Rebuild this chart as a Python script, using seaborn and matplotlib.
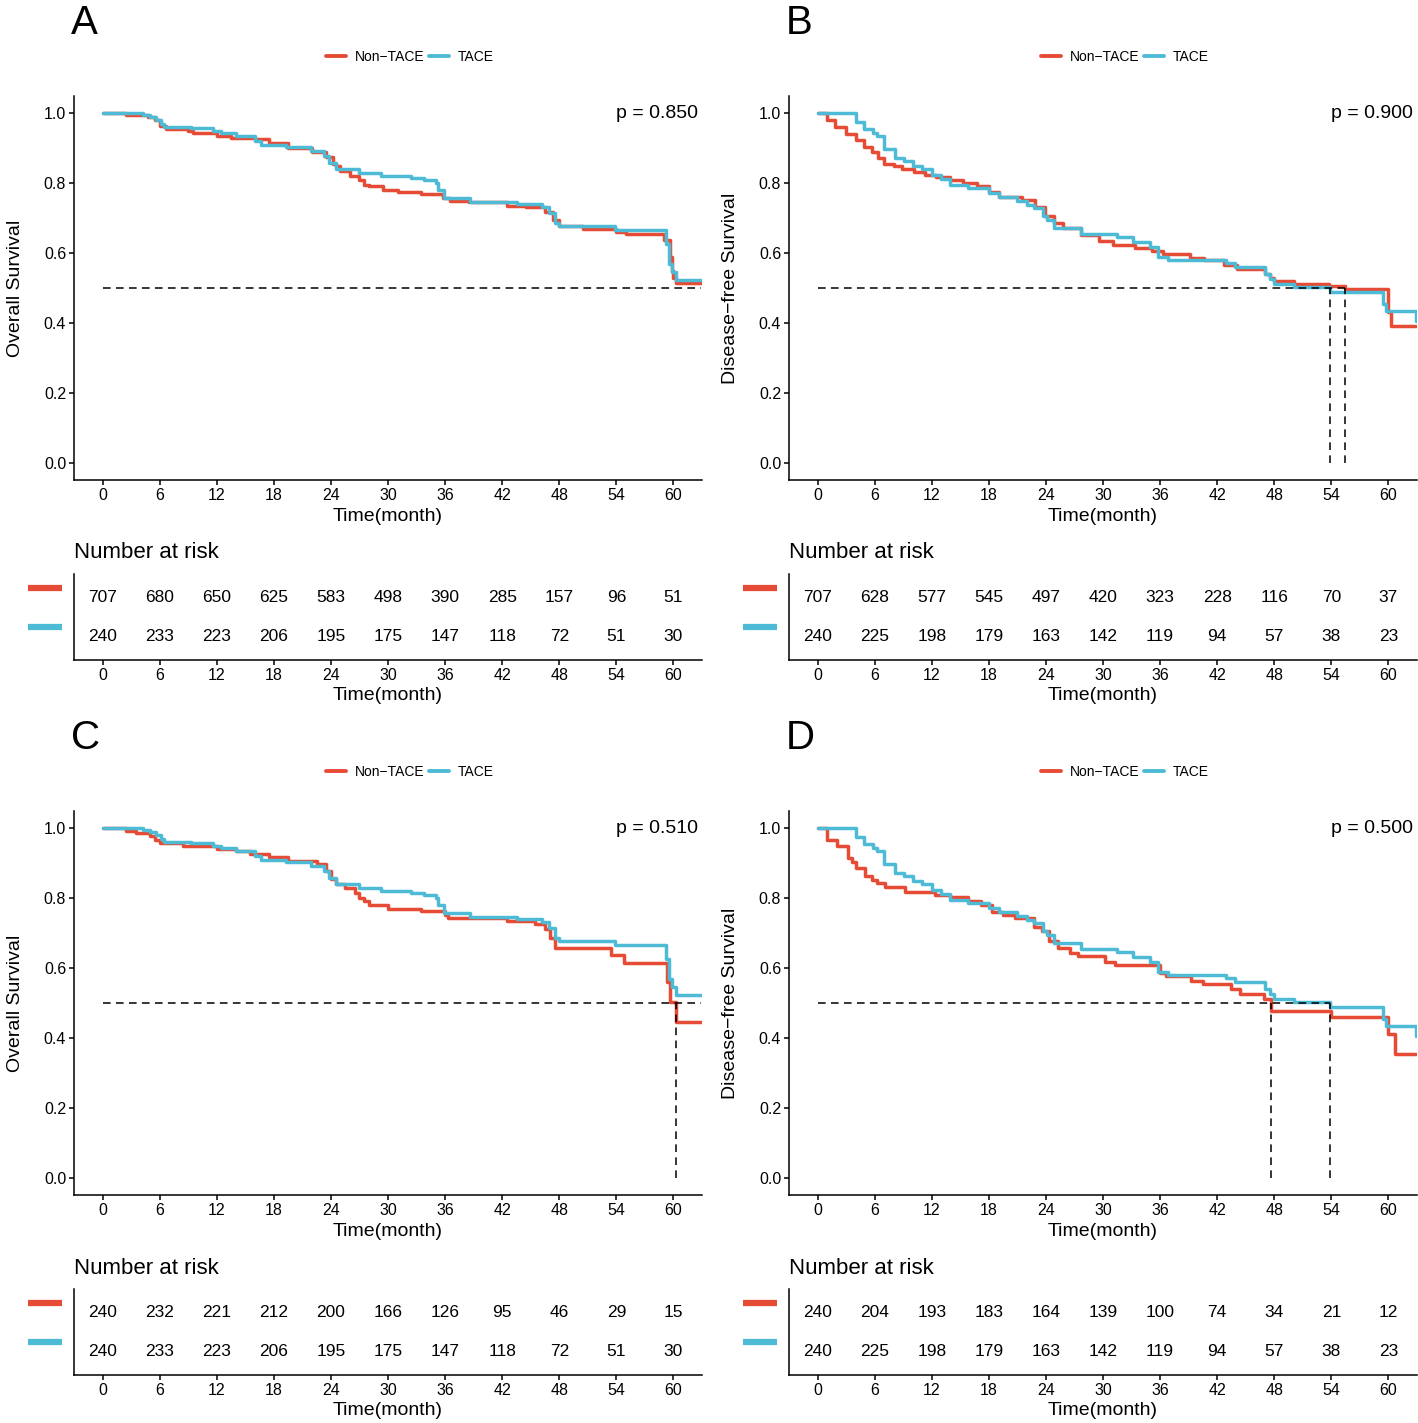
import numpy as np
import pandas as pd
import seaborn as sns
import matplotlib.pyplot as plt
import matplotlib.transforms as mtransforms
from matplotlib.lines import Line2D

# Kaplan-Meier step curves (time in months, survival)
tace_os_t = [0, 4.2, 5.0, 5.6, 6.1, 6.5, 9.3, 11.6, 12.4, 14.0, 16.0, 16.7, 19.3, 21.9, 23.3, 23.8, 24.5, 26.9,
             29.3, 32.4, 33.8, 35.0, 35.3, 35.9, 38.6, 43.6, 46.2, 46.9, 47.5, 48.0, 53.9, 59.2, 59.5, 59.8, 60.3, 62.9]
tace_os_s = [1.0, 0.995, 0.99, 0.98, 0.97, 0.962, 0.957, 0.95, 0.943, 0.935, 0.921, 0.911, 0.904, 0.892, 0.877,
             0.859, 0.84, 0.83, 0.822, 0.815, 0.808, 0.80, 0.78, 0.757, 0.746, 0.74, 0.733, 0.714, 0.685, 0.678,
             0.666, 0.627, 0.57, 0.546, 0.522, 0.522]

non_os_a_t = [0, 2.5, 4.8, 5.5, 6.0, 6.7, 9.0, 9.5, 12.0, 13.5, 16.0, 17.5, 19.5, 22.0, 23.5, 24.2, 24.5, 25.0,
              26.0, 27.0, 27.5, 28.0, 29.5, 31.0, 33.5, 35.8, 36.5, 38.5, 42.5, 44.5, 46.5, 47.3, 48.0, 50.5,
              54.0, 55.0, 59.0, 59.6, 59.8, 60.0, 60.3, 62.9]
non_os_a_s = [1.0, 0.995, 0.99, 0.98, 0.965, 0.955, 0.95, 0.945, 0.935, 0.93, 0.926, 0.915, 0.90, 0.89, 0.875,
              0.855, 0.849, 0.834, 0.822, 0.81, 0.796, 0.791, 0.782, 0.774, 0.77, 0.757, 0.75, 0.746, 0.735,
              0.731, 0.719, 0.695, 0.678, 0.67, 0.661, 0.654, 0.637, 0.59, 0.55, 0.53, 0.514, 0.514]

non_os_c_t = [0, 2.5, 3.5, 5.0, 5.5, 6.0, 8.5, 12.0, 14.0, 15.5, 17.5, 19.5, 22.5, 23.5, 24.0, 24.5, 25.5, 26.5,
              27.0, 27.5, 28.0, 30.0, 33.5, 36.0, 36.3, 42.5, 45.5, 46.5, 47.0, 47.6, 53.4, 54.8, 59.3, 59.6,
              60.3, 62.9]
non_os_c_s = [1.0, 0.993, 0.988, 0.979, 0.966, 0.957, 0.95, 0.94, 0.934, 0.926, 0.917, 0.907, 0.898, 0.878,
              0.854, 0.84, 0.83, 0.816, 0.80, 0.791, 0.782, 0.77, 0.764, 0.753, 0.743, 0.735, 0.726, 0.712,
              0.685, 0.658, 0.637, 0.615, 0.56, 0.502, 0.445, 0.445]

tace_dfs_t = [0, 4.0, 4.9, 5.8, 6.3, 7.0, 8.1, 9.1, 10.0, 11.0, 12.0, 13.0, 13.9, 15.8, 18.0, 19.1, 21.0, 22.0,
              22.7, 23.7, 24.1, 24.9, 27.7, 31.5, 33.2, 34.9, 35.8, 36.8, 42.9, 43.9, 47.0, 47.6, 48.0, 50.1,
              53.9, 59.4, 59.7, 62.9]
tace_dfs_s = [1.0, 0.976, 0.955, 0.945, 0.934, 0.897, 0.873, 0.863, 0.849, 0.842, 0.825, 0.812, 0.796, 0.786,
              0.772, 0.762, 0.748, 0.738, 0.728, 0.705, 0.695, 0.671, 0.656, 0.647, 0.632, 0.618, 0.589, 0.58,
              0.572, 0.56, 0.541, 0.525, 0.512, 0.503, 0.488, 0.454, 0.435, 0.405]

non_dfs_b_t = [0, 0.95, 1.8, 3.0, 4.0, 4.9, 5.7, 6.4, 7.0, 8.0, 8.9, 10.1, 11.3, 12.5, 13.9, 15.3, 16.8, 18.0,
               19.1, 21.5, 22.9, 23.9, 24.9, 25.8, 27.7, 29.6, 31.0, 33.4, 35.1, 36.3, 39.1, 40.6, 42.7, 44.1,
               47.0, 47.6, 48.0, 50.1, 53.7, 55.4, 59.9, 60.3, 62.9]
non_dfs_b_s = [1.0, 0.982, 0.96, 0.94, 0.924, 0.905, 0.89, 0.873, 0.854, 0.849, 0.84, 0.832, 0.825, 0.818,
               0.81, 0.80, 0.791, 0.776, 0.762, 0.752, 0.733, 0.705, 0.685, 0.671, 0.652, 0.635, 0.622, 0.616,
               0.607, 0.598, 0.587, 0.58, 0.565, 0.555, 0.541, 0.53, 0.521, 0.512, 0.505, 0.497, 0.43, 0.392,
               0.392]

non_dfs_d_t = [0, 0.99, 2.06, 3.17, 3.6, 4.0, 5.0, 5.7, 6.3, 7.1, 9.2, 12.3, 13.9, 15.8, 17.2, 18.3, 19.5, 20.8,
               22.8, 23.6, 24.3, 25.3, 26.5, 27.4, 30.2, 31.3, 36.0, 36.6, 39.3, 40.5, 43.4, 44.4, 46.9, 47.7,
               54.0, 59.9, 60.7, 62.9]
non_dfs_d_s = [1.0, 0.968, 0.949, 0.915, 0.905, 0.886, 0.863, 0.853, 0.843, 0.832, 0.817, 0.81, 0.805, 0.793,
               0.781, 0.762, 0.752, 0.743, 0.719, 0.705, 0.677, 0.658, 0.643, 0.634, 0.617, 0.608, 0.587, 0.577,
               0.563, 0.554, 0.539, 0.525, 0.511, 0.478, 0.459, 0.411, 0.354, 0.354]

# numbers at risk
risk_times = [0, 6, 12, 18, 24, 30, 36, 42, 48, 54, 60]
risk_a_non = [707, 680, 650, 625, 583, 498, 390, 285, 157, 96, 51]
risk_b_non = [707, 628, 577, 545, 497, 420, 323, 228, 116, 70, 37]
risk_c_non = [240, 232, 221, 212, 200, 166, 126, 95, 46, 29, 15]
risk_d_non = [240, 204, 193, 183, 164, 139, 100, 74, 34, 21, 12]
risk_tace_os = [240, 233, 223, 206, 195, 175, 147, 118, 72, 51, 30]
risk_tace_dfs = [240, 225, 198, 179, 163, 142, 119, 94, 57, 38, 23]

groups = ['Non\u2212TACE', 'TACE']
colors = ['#E64B35', '#4DBBD5']
panel_letters = ['A', 'B', 'C', 'D']
y_labels = ['Overall Survival', 'Disease\u2212free Survival', 'Overall Survival', 'Disease\u2212free Survival']
p_values = ['p = 0.850', 'p = 0.900', 'p = 0.510', 'p = 0.500']

sns.set_theme(style='ticks')
plt.rcParams['font.family'] = ['Liberation Sans', 'DejaVu Sans']
plt.rcParams['axes.linewidth'] = 1.1
plt.rcParams['xtick.major.width'] = 1.1
plt.rcParams['ytick.major.width'] = 1.1
plt.rcParams['xtick.major.size'] = 3.6
plt.rcParams['ytick.major.size'] = 3.6
plt.rcParams['axes.edgecolor'] = 'black'
plt.rcParams['xtick.color'] = 'black'
plt.rcParams['ytick.color'] = 'black'
plt.rcParams['text.color'] = 'black'
plt.rcParams['axes.labelcolor'] = 'black'

W, H = 1418, 1423
fig = plt.figure(figsize=(W / 100, H / 100), dpi=100)
fig.patch.set_facecolor('white')


def px_axes(left, top, right, bottom):
    return fig.add_axes([left / W, 1 - bottom / H, (right - left) / W, (bottom - top) / H])


def median_time(t, s):
    for ti, si in zip(t, s):
        if si <= 0.5:
            return ti
    return None


def draw_panel(k, x0, y0, curves, risk_rows):
    # survival plot
    ax = px_axes(x0 + 74, y0 + 96, x0 + 702, y0 + 480)
    frames = []
    for g, (t, s) in zip(groups, curves):
        frames.append(pd.DataFrame({'time': t, 'surv': s, 'group': g}))
    df = pd.concat(frames, ignore_index=True)
    sns.lineplot(data=df, x='time', y='surv', hue='group', hue_order=groups, palette=colors,
                 drawstyle='steps-post', linewidth=2.5, estimator=None, sort=False, legend=False, ax=ax)

    # median lines
    meds = [median_time(t, s) for t, s in curves]
    t_end = max(max(t) for t, s in curves)
    h_end = max(meds) if all(m is not None for m in meds) else t_end
    dash = dict(color='black', lw=1.1, ls=(0, (5, 3.5)))
    ax.plot([0, h_end], [0.5, 0.5], **dash)
    for m in meds:
        if m is not None:
            ax.plot([m, m], [0, 0.5], **dash)

    ax.set_xlim(-3, 63)
    ax.set_ylim(-0.05, 1.05)
    ax.set_xticks(risk_times)
    ax.set_yticks([0, 0.2, 0.4, 0.6, 0.8, 1.0])
    ax.set_yticklabels(['0.0', '0.2', '0.4', '0.6', '0.8', '1.0'])
    ax.tick_params(labelsize=11.5, pad=2)
    ax.set_xlabel('Time(month)', fontsize=14, labelpad=4)
    ax.set_ylabel(y_labels[k], fontsize=14, labelpad=14)
    sns.despine(ax=ax)
    ax.text(62.6, 1.0, p_values[k], ha='right', va='center', fontsize=14)

    # legend on top
    handles = [Line2D([], [], color=c, lw=2.8) for c in colors]
    fig.legend(handles, groups, loc='center', bbox_to_anchor=((x0 + 410) / W, 1 - (y0 + 57) / H),
               ncol=2, frameon=False, fontsize=10, handlelength=1.45, handletextpad=0.6,
               columnspacing=0.35, borderpad=0)

    # panel letter
    fig.text((x0 + 71) / W, 1 - (y0 + 34) / H, panel_letters[k], fontsize=29, ha='left', va='baseline')

    # risk table
    at = px_axes(x0 + 74, y0 + 574, x0 + 702, y0 + 660)
    at.set_xlim(-3, 63)
    at.set_ylim(0.385, 2.59)
    rows = [2, 1]
    trans = mtransforms.blended_transform_factory(at.transAxes, at.transData)
    for row, vals, c in zip(rows, risk_rows, colors):
        for t, n in zip(risk_times, vals):
            at.text(t, row, str(n), ha='center', va='center', fontsize=12.5)
        at.plot([-0.073, -0.019], [row + 0.22, row + 0.22], transform=trans, color=c, lw=4.5,
                solid_capstyle='butt', clip_on=False)
    at.set_xticks(risk_times)
    at.set_yticks([])
    at.tick_params(labelsize=11.5, pad=2)
    at.set_xlabel('Time(month)', fontsize=14, labelpad=3)
    sns.despine(ax=at)
    fig.text((x0 + 74) / W, 1 - (y0 + 553) / H, 'Number at risk', fontsize=16, ha='left', va='center')


draw_panel(0, 0, 0, [(non_os_a_t, non_os_a_s), (tace_os_t, tace_os_s)], [risk_a_non, risk_tace_os])
draw_panel(1, 715, 0, [(non_dfs_b_t, non_dfs_b_s), (tace_dfs_t, tace_dfs_s)], [risk_b_non, risk_tace_dfs])
draw_panel(2, 0, 715, [(non_os_c_t, non_os_c_s), (tace_os_t, tace_os_s)], [risk_c_non, risk_tace_os])
draw_panel(3, 715, 715, [(non_dfs_d_t, non_dfs_d_s), (tace_dfs_t, tace_dfs_s)], [risk_d_non, risk_tace_dfs])

fig.savefig('out.png', dpi=100, facecolor='white')
